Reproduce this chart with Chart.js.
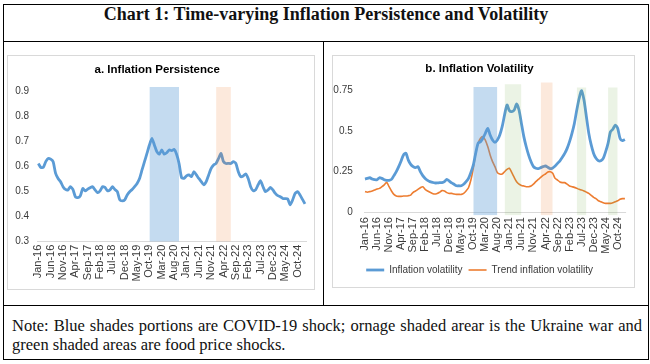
<!DOCTYPE html>
<html>
<head>
<meta charset="utf-8">
<title>Chart 1: Time-varying Inflation Persistence and Volatility</title>
<script src="https://cdn.jsdelivr.net/npm/chart.js@4.4.1/dist/chart.umd.min.js"></script>
<style>
  html, body { margin: 0; padding: 0; background: #fff; }
  body { width: 650px; height: 364px; position: relative; overflow: hidden; }
  .ln { position: absolute; background: #000; }
  #title {
    position: absolute; left: 3px; top: 4px; width: 646px; height: 37px;
    line-height: 37px; text-align: center;
    font: bold 18px "Liberation Serif", "Times New Roman", serif; color: #111;
  }
  .frame { position: absolute; border: 1px solid #d9d9d9; }
  .frame canvas { display: block; }
  .note {
    position: absolute; left: 12px; width: 630px; line-height: 19px;
    font: 16.5px "Liberation Serif", "Times New Roman", serif; color: #111;
  }
  #note1 { top: 315.5px; text-align: justify; text-align-last: justify; }
  #note2 { top: 334.5px; }
</style>
</head>
<body>
<div class="ln" style="left:3px;top:4px;width:646px;height:1px"></div>
<div class="ln" style="left:3px;top:359px;width:646px;height:1px"></div>
<div class="ln" style="left:3px;top:4px;width:1px;height:356px"></div>
<div class="ln" style="left:648px;top:4px;width:1px;height:356px"></div>
<div class="ln" style="left:3px;top:41px;width:646px;height:1px"></div>
<div class="ln" style="left:3px;top:305px;width:646px;height:1px"></div>
<div class="ln" style="left:323px;top:41px;width:1px;height:265px"></div>

<div id="title">Chart 1: Time-varying Inflation Persistence and Volatility</div>

<div class="frame" style="left:7px;top:55px;width:306px;height:233px">
  <canvas id="chartA" width="306" height="233"></canvas>
</div>
<div class="frame" style="left:332px;top:55px;width:301px;height:231px">
  <canvas id="chartB" width="301" height="231"></canvas>
</div>

<div class="note" id="note1">Note: Blue shades portions are COVID-19 shock; ornage shaded arear is the Ukraine war and</div>
<div class="note" id="note2">green shaded areas are food price shocks.</div>

<script>
// mois Jan-16 ... Jan-25
const MON = ['Jan', 'Feb', 'Mar', 'Apr', 'May', 'Jun', 'Jul', 'Aug', 'Sep', 'Oct', 'Nov', 'Dec'];
const N_MONTHS = 109;
const MONTHS = [];
for (let i = 0; i < N_MONTHS; i++) {
    MONTHS.push(MON[i % 12] + '-' + (16 + Math.floor(i / 12)));
}

// a. Inflation persistence
const PERSISTENCE = [
    0.613, 0.597, 0.597, 0.620, 0.633, 0.630, 0.620, 0.573, 0.553, 0.540,
    0.520, 0.509, 0.507, 0.520, 0.509, 0.480, 0.476, 0.483, 0.513, 0.503,
    0.510, 0.516, 0.520, 0.507, 0.496, 0.503, 0.520, 0.517, 0.504, 0.507,
    0.520, 0.509, 0.500, 0.467, 0.463, 0.467, 0.487, 0.500, 0.509, 0.520,
    0.533, 0.553, 0.587, 0.620, 0.653, 0.687, 0.713, 0.687, 0.660, 0.650,
    0.667, 0.650, 0.656, 0.667, 0.664, 0.669, 0.650, 0.613, 0.557, 0.553,
    0.563, 0.567, 0.560, 0.580, 0.567, 0.553, 0.540, 0.527, 0.540, 0.567,
    0.593, 0.607, 0.613, 0.633, 0.653, 0.620, 0.613, 0.613, 0.613, 0.620,
    0.613, 0.580, 0.560, 0.563, 0.571, 0.553, 0.520, 0.504, 0.507, 0.527,
    0.544, 0.520, 0.500, 0.507, 0.517, 0.507, 0.493, 0.484, 0.480, 0.473,
    0.472, 0.471, 0.447, 0.467, 0.493, 0.500, 0.487, 0.469, 0.451
];

// b. Inflation volatility
const VOLATILITY = [
    0.204, 0.208, 0.212, 0.204, 0.200, 0.200, 0.212, 0.208, 0.200, 0.196,
    0.196, 0.202, 0.225, 0.249, 0.280, 0.315, 0.352, 0.362, 0.320, 0.294,
    0.280, 0.274, 0.280, 0.249, 0.225, 0.208, 0.196, 0.188, 0.184, 0.180,
    0.180, 0.182, 0.182, 0.188, 0.202, 0.192, 0.180, 0.172, 0.163, 0.163,
    0.163, 0.172, 0.188, 0.208, 0.245, 0.290, 0.362, 0.423, 0.433, 0.454,
    0.484, 0.515, 0.474, 0.443, 0.429, 0.443, 0.474, 0.525, 0.597, 0.658,
    0.623, 0.617, 0.627, 0.664, 0.627, 0.545, 0.464, 0.402, 0.351, 0.310,
    0.280, 0.270, 0.268, 0.274, 0.280, 0.284, 0.276, 0.268, 0.272, 0.284,
    0.300, 0.316, 0.337, 0.361, 0.392, 0.433, 0.484, 0.545, 0.627, 0.699,
    0.746, 0.688, 0.586, 0.484, 0.413, 0.361, 0.331, 0.316, 0.316, 0.331,
    0.372, 0.423, 0.494, 0.509, 0.535, 0.515, 0.453, 0.439, 0.447
];

const TREND_VOLATILITY = [
    0.127, 0.123, 0.127, 0.131, 0.137, 0.143, 0.147, 0.157, 0.168, 0.184,
    0.157, 0.131, 0.110, 0.100, 0.098, 0.098, 0.100, 0.100, 0.102, 0.106,
    0.123, 0.131, 0.141, 0.151, 0.157, 0.141, 0.131, 0.123, 0.116, 0.112,
    0.116, 0.123, 0.133, 0.131, 0.121, 0.116, 0.116, 0.112, 0.110, 0.110,
    0.110, 0.116, 0.131, 0.151, 0.198, 0.270, 0.362, 0.423, 0.454, 0.464,
    0.443, 0.403, 0.352, 0.311, 0.280, 0.243, 0.235, 0.235, 0.249, 0.263,
    0.270, 0.243, 0.214, 0.188, 0.173, 0.165, 0.161, 0.157, 0.157, 0.161,
    0.173, 0.188, 0.202, 0.214, 0.227, 0.235, 0.247, 0.249, 0.239, 0.208,
    0.198, 0.186, 0.182, 0.182, 0.173, 0.161, 0.157, 0.153, 0.147, 0.141,
    0.137, 0.131, 0.124, 0.116, 0.104, 0.092, 0.084, 0.071, 0.065, 0.059,
    0.055, 0.055, 0.055, 0.059, 0.065, 0.071, 0.080, 0.084, 0.084
];

// periodes de choc (premier mois, dernier mois, haut de la bande)
const COVID_A = [['Oct-19', 'Oct-20', 0.92]];
const UKRAINE_A = [['Jan-22', 'Jul-22', 0.92]];
const COVID_B = [['Oct-19', 'Aug-20', 0.768]];
const UKRAINE_B = [['Feb-22', 'Jul-22', 0.795]];
const FOOD_B = [['Nov-20', 'Jun-21', 0.785], ['May-23', 'Sep-23', 0.765], ['Jun-24', 'Oct-24', 0.765]];

const Y_TICKS_A = [0.3, 0.4, 0.5, 0.6, 0.7, 0.8, 0.9];
const Y_TICKS_B = [0, 0.25, 0.5, 0.75];

const SANS = '"Liberation Sans", Arial, sans-serif';
const TICK_COLOR = '#3a3a3a';

// bande de choc : ligne remplie jusqu'a "base"
function band(label, periods, base, color) {
    const data = MONTHS.map(() => null);
    periods.forEach(([from, to, top]) => {
        for (let i = MONTHS.indexOf(from); i <= MONTHS.indexOf(to); i++) data[i] = top;
    });
    return {
        label: label,
        data: data,
        borderColor: 'transparent',
        borderWidth: 0,
        backgroundColor: color,
        pointRadius: 0,
        spanGaps: false,
        tension: 0,
        fill: { value: base }
    };
}

function xAxis(height, padding) {
    return {
        offset: true,
        grid: { display: false, drawTicks: false },
        border: { display: false },
        ticks: {
            autoSkip: false, maxRotation: 90, minRotation: 90, padding: padding,
            color: TICK_COLOR, font: { family: SANS, size: 11 },
            callback: (v, i) => (i % 5 === 0 ? MONTHS[i] : null)
        },
        afterFit: (s) => { s.height = height; }
    };
}

// a. Inflation Persistence
new Chart(document.getElementById('chartA'), {
    type: 'line',
    data: {
        labels: MONTHS,
        datasets: [
            band('COVID-19 shock', COVID_A, 0.3, 'rgba(91, 155, 213, 0.36)'),
            band('Ukraine war', UKRAINE_A, 0.3, 'rgba(237, 125, 49, 0.17)'),
            {
                label: 'Inflation persistence',
                data: PERSISTENCE,
                borderColor: '#5B9BD5',
                borderWidth: 2.8,
                pointRadius: 0,
                tension: 0.2,
                fill: false
            }
        ]
    },
    options: {
        responsive: false,
        animation: false,
        events: [],
        layout: { padding: { left: 0, right: 7.6, top: 0, bottom: 0 } },
        plugins: {
            legend: { display: false },
            tooltip: { enabled: false },
            title: {
                display: true,
                text: 'a. Inflation Persistence',
                color: '#000',
                font: { family: SANS, size: 11.5, weight: 'bold', lineHeight: 1.2 },
                padding: { top: 7.3, bottom: 9.6 }
            }
        },
        scales: {
            x: Object.assign(xAxis(47.3, 3), { border: { display: true, color: '#d9d9d9', width: 1 } }),
            y: {
                min: 0.3,
                max: 0.92,
                afterBuildTicks: (s) => { s.ticks = Y_TICKS_A.map(v => ({ value: v })); },
                grid: { display: false, drawTicks: false },
                border: { display: false },
                ticks: {
                    padding: 8, color: TICK_COLOR, font: { family: SANS, size: 10 },
                    callback: (v) => v.toFixed(1)
                },
                afterFit: (s) => { s.width = 29.1; }
            }
        }
    }
});

// b. Inflation Volatility
new Chart(document.getElementById('chartB'), {
    type: 'line',
    data: {
        labels: MONTHS,
        datasets: [
            band('COVID-19 shock', COVID_B, -0.02, 'rgba(91, 155, 213, 0.36)'),
            band('Ukraine war', UKRAINE_B, -0.02, 'rgba(237, 125, 49, 0.17)'),
            band('Food price shocks', FOOD_B, -0.02, 'rgba(112, 173, 71, 0.14)'),
            {
                label: 'Inflation volatility',
                data: VOLATILITY,
                borderColor: '#5B9BD5',
                backgroundColor: '#5B9BD5',
                borderWidth: 2.8,
                pointRadius: 0,
                tension: 0.25,
                fill: false
            },
            {
                label: 'Trend inflation volatility',
                data: TREND_VOLATILITY,
                borderColor: '#ED7D31',
                backgroundColor: '#ED7D31',
                borderWidth: 1.6,
                pointRadius: 0,
                tension: 0.25,
                fill: false
            }
        ]
    },
    options: {
        responsive: false,
        animation: false,
        events: [],
        layout: { padding: { left: 0, right: 7.9, top: 0, bottom: 2 } },
        plugins: {
            tooltip: { enabled: false },
            title: {
                display: true,
                text: 'b. Inflation Volatility',
                color: '#000',
                font: { family: SANS, size: 11.5, weight: 'bold', lineHeight: 1.2 },
                padding: { top: 6.1, bottom: 5.9 }
            },
            legend: {
                position: 'bottom',
                labels: {
                    filter: (item) => item.datasetIndex >= 3,
                    usePointStyle: true,
                    pointStyle: 'line',
                    pointStyleWidth: 18,
                    boxHeight: 3,
                    padding: 6,
                    color: TICK_COLOR,
                    font: { family: SANS, size: 10 }
                }
            }
        },
        scales: {
            x: xAxis(43.4, 1.5),
            y: {
                min: -0.02,
                max: 0.8,
                afterBuildTicks: (s) => { s.ticks = Y_TICKS_B.map(v => ({ value: v })); },
                grid: {
                    drawTicks: false,
                    color: (c) => (c.tick && c.tick.value === 0 ? '#d9d9d9' : 'rgba(0,0,0,0)')
                },
                border: { display: false },
                ticks: {
                    padding: 11, color: TICK_COLOR, font: { family: SANS, size: 10 },
                    callback: (v) => (v === 0 ? '0' : String(v))
                },
                afterFit: (s) => { s.width = 30.8; }
            }
        }
    }
});
</script>
</body>
</html>
